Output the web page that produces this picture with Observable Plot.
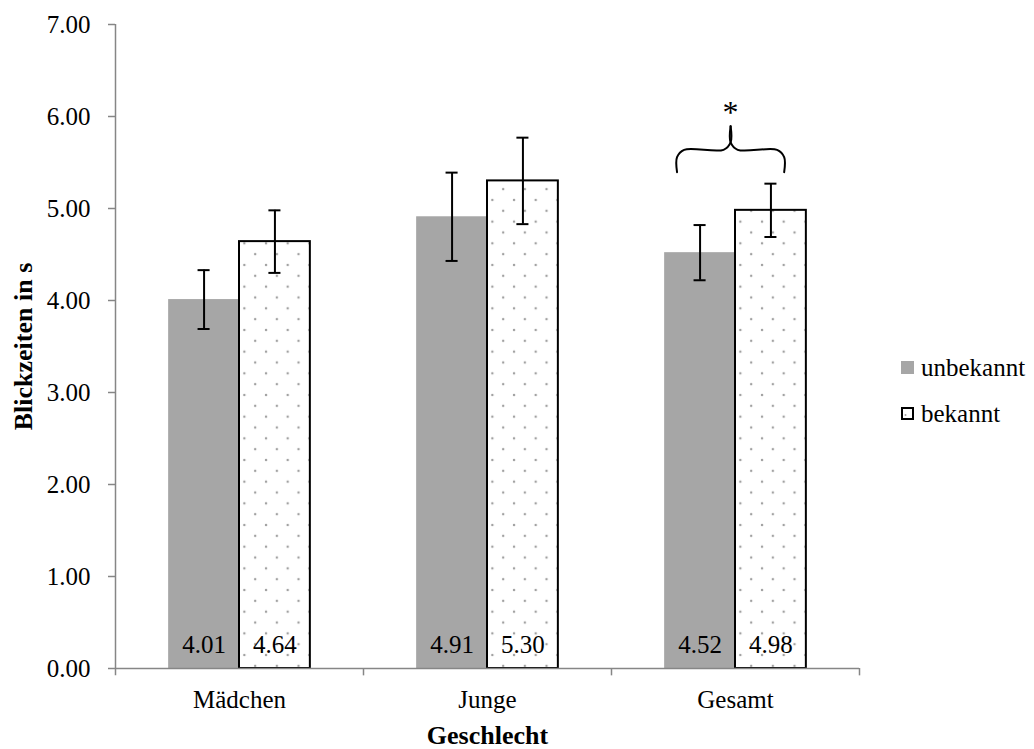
<!DOCTYPE html>
<html>
<head>
<meta charset="utf-8">
<script src="https://cdn.jsdelivr.net/npm/d3@7"></script>
<script src="https://cdn.jsdelivr.net/npm/@observablehq/plot@0.6"></script>
<style>
  body { margin: 0; background: #fff; }
  #wrap { position: relative; width: 1034px; height: 749px; font-family: "Liberation Serif", "Times New Roman", serif; }
  #wrap svg { display: block; }
  [aria-label$="axis label"] { font-weight: bold; font-size: 26px; }
  .leg { position: absolute; left: 901px; font-size: 25px; line-height: 25px; height: 25px; display: flex; align-items: center; color: #000; }
  .sw { width: 13px; height: 13px; box-sizing: border-box; margin-right: 7px; flex: none; }
</style>
</head>
<body>
<svg width="0" height="0" style="position:absolute">
  <defs>
    <pattern id="dots" patternUnits="userSpaceOnUse" width="21.67" height="21.67">
      <rect width="21.67" height="21.67" fill="#fff"/>
      <circle cx="5" cy="5" r="1.25" fill="#a0a0a0"/>
      <circle cx="15.83" cy="15.83" r="1.25" fill="#a0a0a0"/>
    </pattern>
  </defs>
</svg>
<div id="wrap"></div>
<script>
// ---- data ----
const categories = ["Mädchen", "Junge", "Gesamt"];
const series = ["unbekannt", "bekannt"];
const unbekanntValues = [4.01, 4.91, 4.52];
const bekanntValues = [4.64, 5.30, 4.98];
const unbekanntErrors = [0.32, 0.48, 0.30];
const bekanntErrors = [0.34, 0.47, 0.29];
const yTicks = [0, 1, 2, 3, 4, 5, 6, 7];
const significance = [{cat: "Gesamt", label: "*"}];

// ---- tables for Plot ----
const valuesBySeries = [unbekanntValues, bekanntValues];
const errorsBySeries = [unbekanntErrors, bekanntErrors];
const rows = [];
categories.forEach((cat, i) => {
  series.forEach((s, j) => {
    rows.push({cat, series: s, idx: j, value: valuesBySeries[j][i], err: errorsBySeries[j][i]});
  });
});
const unb = rows.filter(d => d.series === "unbekannt");
const bek = rows.filter(d => d.series === "bekannt");

const gap = 0.75;                    // Excel-style gap on each side of a bar pair (in bar widths)
const xDomain = [-gap, series.length + gap];
const cap = 0.085;                   // half-width of the error-bar caps (in bar widths)
const axisGray = "#868686";

// brace annotation above the Gesamt pair (bar-width / value units)
const bL = 0.175, bR = 1.687, bM = (bL + bR) / 2;
const yLow = 5.395, yH = 5.638, yTip = 5.895, rx = 0.1, ry = 0.08;
const brace = [
  {side: "l", x: bL, y: yLow}, {side: "l", x: bL, y: yH - ry}, {side: "l", x: bL + rx, y: yH},
  {side: "l", x: bM - rx, y: yH}, {side: "l", x: bM, y: yH + ry}, {side: "l", x: bM, y: yTip},
  {side: "r", x: bM, y: yTip}, {side: "r", x: bM, y: yH + ry}, {side: "r", x: bM + rx, y: yH},
  {side: "r", x: bR - rx, y: yH}, {side: "r", x: bR, y: yH - ry}, {side: "r", x: bR, y: yLow}
].map(d => ({...d, cat: "Gesamt"}));

const chart = Plot.plot({
  width: 1034,
  height: 749,
  marginLeft: 114,
  marginRight: 174,
  marginTop: 24,
  marginBottom: 81,
  facet: {marginTop: 0, marginBottom: 0, marginLeft: 0, marginRight: 0},
  style: {fontFamily: "Liberation Serif, Times New Roman, serif", fontSize: "25px", background: "#fff", color: "#000"},
  fx: {domain: categories, padding: 0},
  x: {domain: xDomain, axis: null},
  y: {domain: [0, 7], axis: null},
  marks: [
    Plot.rectY(unb, {fx: "cat", x1: d => d.idx, x2: d => d.idx + 1, y: "value", fill: "#a6a6a6"}),
    Plot.rectY(bek, {fx: "cat", x1: d => d.idx, x2: d => d.idx + 1, y: "value", fill: "url(#dots)", stroke: "#000", strokeWidth: 2}),
    Plot.text(rows, {fx: "cat", x: d => d.idx + 0.5, y: 0, text: d => d.value.toFixed(2), dy: -24, fontSize: 25, fill: "#000"}),
    Plot.ruleX(rows, {fx: "cat", x: d => d.idx + 0.5, y1: d => d.value - d.err, y2: d => d.value + d.err, stroke: "#000", strokeWidth: 2}),
    Plot.ruleY(rows, {fx: "cat", y: d => d.value - d.err, x1: d => d.idx + 0.5 - cap, x2: d => d.idx + 0.5 + cap, stroke: "#000", strokeWidth: 2}),
    Plot.ruleY(rows, {fx: "cat", y: d => d.value + d.err, x1: d => d.idx + 0.5 - cap, x2: d => d.idx + 0.5 + cap, stroke: "#000", strokeWidth: 2}),
    // axes
    Plot.ruleY([0], {stroke: axisGray, strokeWidth: 1.5}),
    Plot.ruleX(categories.slice(0, 1), {fx: d => d, x: () => xDomain[0], y1: -0.08, y2: 7, stroke: axisGray, strokeWidth: 1.5}),
    Plot.ruleX(categories, {fx: d => d, x: () => xDomain[1], y1: -0.08, y2: 0, stroke: axisGray, strokeWidth: 1.5}),
    Plot.axisY(yTicks, {anchor: "left", tickSize: 7, tickPadding: 18, tickFormat: d => d.toFixed(2), fontSize: 25, stroke: axisGray, strokeWidth: 1.5, label: "Blickzeiten in s", labelArrow: "none", labelAnchor: "center", labelOffset: 102}),
    Plot.axisFx({anchor: "bottom", tickSize: 0, tickPadding: 22, fontSize: 25, label: "Geschlecht", labelArrow: "none", labelAnchor: "center", labelOffset: 75}),
    // significance brace
    Plot.line(brace, {fx: "cat", x: "x", y: "y", z: "side", curve: "catmull-rom", stroke: "#000", strokeWidth: 2}),
    Plot.text(significance, {fx: "cat", x: () => bM, y: 6.04, text: "label", fontSize: 32, fill: "#000"})
  ]
});

const wrap = document.getElementById("wrap");
wrap.appendChild(chart);

// legend
const legend = [
  {label: "unbekannt", top: 355, style: "background:#a6a6a6;"},
  {label: "bekannt", top: 401, style: "background:#fff;border:2px solid #000;"}
];
legend.forEach(item => {
  const div = document.createElement("div");
  div.className = "leg";
  div.style.top = item.top + "px";
  const sw = document.createElement("span");
  sw.className = "sw";
  sw.setAttribute("style", item.style);
  if (item.label === "bekannt") {
    sw.innerHTML = '<svg width="9" height="9" style="display:block"><circle cx="2.5" cy="6" r="1" fill="#a0a0a0"/></svg>';
  }
  const tx = document.createElement("span");
  tx.textContent = item.label;
  div.appendChild(sw);
  div.appendChild(tx);
  wrap.appendChild(div);
});
</script>
</body>
</html>
